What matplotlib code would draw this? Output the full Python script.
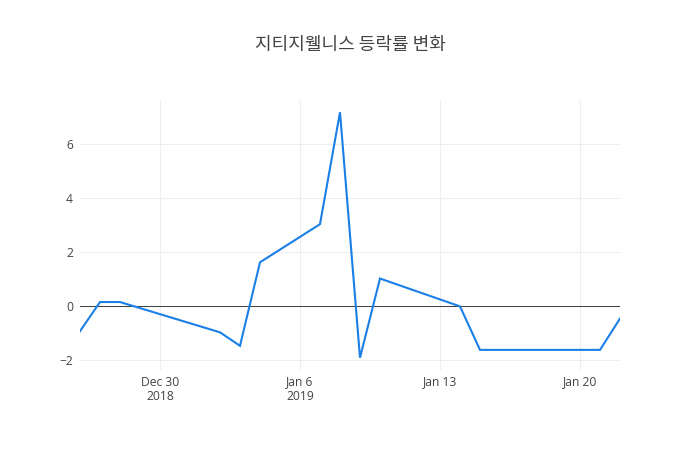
import matplotlib
matplotlib.use("Agg")
import matplotlib.pyplot as plt
import pandas as pd

title = "지티지웰니스 등락률 변화"
dates = ["2018-12-26", "2018-12-27", "2018-12-28", "2019-01-02", "2019-01-03",
         "2019-01-04", "2019-01-07", "2019-01-08", "2019-01-09", "2019-01-10",
         "2019-01-14", "2019-01-15", "2019-01-21", "2019-01-22"]
values = [-0.92, 0.16, 0.16, -0.96, -1.46, 1.63, 3.04, 7.18, -1.90, 1.03,
          0.0, -1.61, -1.61, -0.45]
xtick_dates = ["2018-12-30", "2019-01-06", "2019-01-13", "2019-01-20"]
xtick_labels = ["Dec 30\n2018", "Jan 6\n2019", "Jan 13", "Jan 20"]
ytick_values = [-2, 0, 2, 4, 6]

x = pd.to_datetime(dates)
xt = pd.to_datetime(xtick_dates)

plt.rcParams['font.family'] = ['Open Sans', 'DejaVu Sans']
fig = plt.figure(figsize=(7, 4.5), dpi=100)
ax = fig.add_axes([80/700, 80/450, 540/700, 270/450])

ax.plot(x, values, color='#1a7fe6', linewidth=1.5, zorder=3, solid_joinstyle='miter')
ax.axhline(0, color='#444444', linewidth=0.75, zorder=2)

span = max(values) - min(values)
ax.set_ylim(min(values) - 0.05*span, max(values) + 0.05*span)
ax.set_xlim(x[0], x[-1])

ax.set_xticks(xt)
ax.set_xticklabels(xtick_labels)
ax.set_yticks(ytick_values)
ax.set_yticklabels(["\u22122", "0", "2", "4", "6"])

ax.grid(True, color='#eeeeee', linewidth=0.75, zorder=0)
for s in ax.spines.values():
    s.set_visible(False)
ax.tick_params(axis='both', length=0, labelsize=8.7, labelcolor='#444444')
ax.tick_params(axis='x', pad=4)
ax.tick_params(axis='y', pad=5)
for lbl in ax.get_xticklabels():
    lbl.set_linespacing(1.15)

fig.text(0.5, 1 - 45/450, title, ha='center', va='center', fontsize=13,
         color='#444444', fontweight='medium', family=['Noto Sans CJK KR', 'DejaVu Sans'])

fig.savefig("out.png", dpi=100, facecolor='white')
